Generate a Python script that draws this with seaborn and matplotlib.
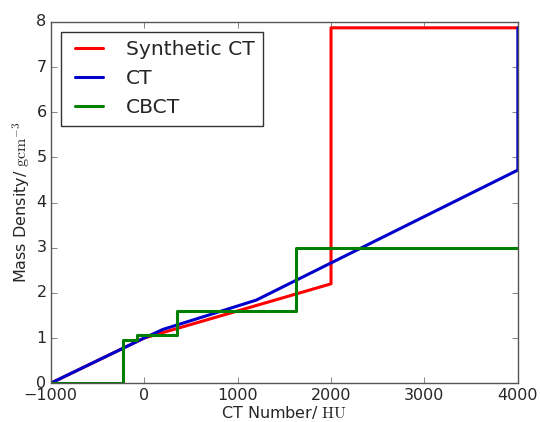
import matplotlib
matplotlib.use("Agg")
import matplotlib.pyplot as plt
import seaborn as sns
import pandas as pd

# Data
synth_x = [-1000, 0, 2000, 2000, 4000]
synth_y = [0.0, 1.0, 2.2, 7.87, 7.87]

ct_x = [-1000, 0, 200, 1200, 4000, 4000]
ct_y = [0.0, 1.0, 1.19, 1.84, 4.72, 7.87]

cbct_x = [-1000, -232, -82, 346, 1623, 4000]
cbct_y = [0.0, 0.96, 1.06, 1.6, 3.0, 3.0]

plt.style.use("classic")
sns.set_style("ticks", {"xtick.direction": "in", "ytick.direction": "in"})
plt.rcParams.update({
    "font.family": ["DejaVu Sans"],
    "mathtext.fontset": "cm",
    "font.size": 11.5,
    "axes.edgecolor": "black",
    "axes.linewidth": 1.0,
})

fig = plt.figure(figsize=(5.4, 4.22), dpi=100, facecolor="white")
ax = fig.add_axes([0.094, 0.092, 0.865, 0.856])
ax.set_facecolor("white")

sns.lineplot(x=synth_x, y=synth_y, ax=ax, sort=False, estimator=None,
             color="#ff0000", lw=2.2, label="Synthetic CT")
sns.lineplot(x=ct_x, y=ct_y, ax=ax, sort=False, estimator=None,
             color="#0000cc", lw=2.2, label="CT")
sns.lineplot(x=cbct_x, y=cbct_y, ax=ax, sort=False, estimator=None,
             color="#007f00", lw=2.2, label="CBCT", drawstyle="steps-post")

ax.set_xlim(-1000, 4000)
ax.set_ylim(0, 8)
ax.set_xticks([-1000, 0, 1000, 2000, 3000, 4000])
ax.set_yticks(range(0, 9))
ax.tick_params(direction="in", top=True, right=True, labelsize=11.5, length=4,
               color="#555555")
ax.tick_params(axis="x", pad=3.5)
ax.tick_params(axis="y", pad=3)
for s in ax.spines.values():
    s.set_visible(True)
    s.set_color("#555555")
ax.set_xlabel(r"CT Number/ $\mathrm{HU}$", fontsize=11.5, labelpad=1)
ax.set_ylabel(r"Mass Density/ $\mathrm{gcm^{-3}}$", fontsize=11.5, labelpad=3)

leg = ax.legend(loc="upper left", fontsize=14.6, frameon=True, fancybox=False,
                handlelength=2, borderaxespad=0.5)
leg.get_frame().set_edgecolor("#333333")
leg.get_frame().set_linewidth(1.0)

fig.savefig("out.png", dpi=100, facecolor="white")
